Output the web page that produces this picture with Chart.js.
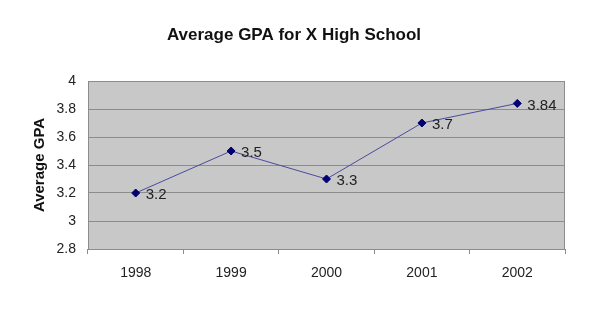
<!DOCTYPE html>
<html>
<head>
<meta charset="utf-8">
<script src="https://cdn.jsdelivr.net/npm/chart.js@4"></script>
<style>
  body { margin: 0; background: #fff; }
  #gpaChart { display: block; }
</style>
</head>
<body>
<canvas id="gpaChart" width="604" height="322"></canvas>
<script>
var years = ['1998', '1999', '2000', '2001', '2002'];
var gpaValues = [3.2, 3.5, 3.3, 3.7, 3.84];
var gpaLabels = ['3.2', '3.5', '3.3', '3.7', '3.84'];
var yTicks = [2.8, 3, 3.2, 3.4, 3.6, 3.8, 4];

// grey plot area with a border, like the old spreadsheet chart
var plotBackground = {
    id: 'plotBackground',
    beforeDraw: function(chart) {
        var a = chart.chartArea;
        var ctx = chart.ctx;
        ctx.save();
        ctx.fillStyle = '#c8c8c8';
        ctx.fillRect(a.left, a.top, a.right - a.left, a.bottom - a.top);
        ctx.restore();
    },
    afterDatasetsDraw: function(chart) {
        var a = chart.chartArea;
        var ctx = chart.ctx;
        ctx.save();
        ctx.strokeStyle = '#8c8c8c';
        ctx.lineWidth = 1;
        ctx.strokeRect(a.left + 0.5, a.top + 0.5, a.right - a.left - 1, a.bottom - a.top);
        ctx.restore();
    }
};

// value labels to the right of each point
var valueLabels = {
    id: 'valueLabels',
    afterDatasetsDraw: function(chart) {
        var ctx = chart.ctx;
        var meta = chart.getDatasetMeta(0);
        ctx.save();
        ctx.font = '15px "Liberation Sans", Arial, sans-serif';
        ctx.fillStyle = '#222';
        ctx.textBaseline = 'middle';
        ctx.textAlign = 'left';
        meta.data.forEach(function(pt, i) {
            ctx.fillText(gpaLabels[i], pt.x + 10, pt.y + 2);
        });
        ctx.restore();
    }
};

const ctx = document.getElementById('gpaChart').getContext('2d');
var myChart = new Chart(ctx, {
    type: 'line',
    data: {
        labels: years,
        datasets: [{
            label: 'Average GPA',
            data: gpaValues,
            borderColor: '#4a4aa0',
            borderWidth: 1,
            pointStyle: 'rectRot',
            pointRadius: 4,
            pointBackgroundColor: '#000070',
            pointBorderColor: '#000070',
            tension: 0
        }]
    },
    options: {
        responsive: false,
        animation: false,
        layout: {
            padding: { left: 23, right: 39, top: 0, bottom: 33 }
        },
        plugins: {
            legend: { display: false },
            tooltip: { enabled: false },
            title: {
                display: true,
                text: 'Average GPA for X High School',
                color: '#111',
                font: { family: '"Liberation Sans", Arial, sans-serif', size: 17, weight: 'bold', lineHeight: 1.2 },
                padding: { top: 25, bottom: 35.6 }
            }
        },
        scales: {
            x: {
                offset: true,
                grid: {
                    display: true,
                    drawOnChartArea: false,
                    drawTicks: true,
                    tickLength: 5,
                    color: '#8c8c8c',
                    offset: true
                },
                border: { display: false },
                ticks: {
                    color: '#222',
                    padding: 11,
                    font: { family: '"Liberation Sans", Arial, sans-serif', size: 14 }
                },
                afterFit: function(scale) { scale.height = 40; }
            },
            y: {
                min: 2.8,
                max: 4,
                afterBuildTicks: function(scale) {
                    scale.ticks = yTicks.map(function(v) { return { value: v }; });
                },
                grid: {
                    color: '#8c8c8c',
                    drawTicks: false
                },
                border: { display: false },
                ticks: {
                    color: '#222',
                    padding: 12,
                    font: { family: '"Liberation Sans", Arial, sans-serif', size: 14 },
                    callback: function(v) { return String(Number(v.toFixed(1))); }
                },
                title: {
                    display: true,
                    text: 'Average GPA',
                    color: '#111',
                    font: { family: '"Liberation Sans", Arial, sans-serif', size: 15, weight: 'bold', lineHeight: 1.2 },
                    padding: { top: 8, bottom: 0 }
                },
                afterFit: function(scale) { scale.width = 65; }
            }
        }
    },
    plugins: [plotBackground, valueLabels]
});
</script>
</body>
</html>
